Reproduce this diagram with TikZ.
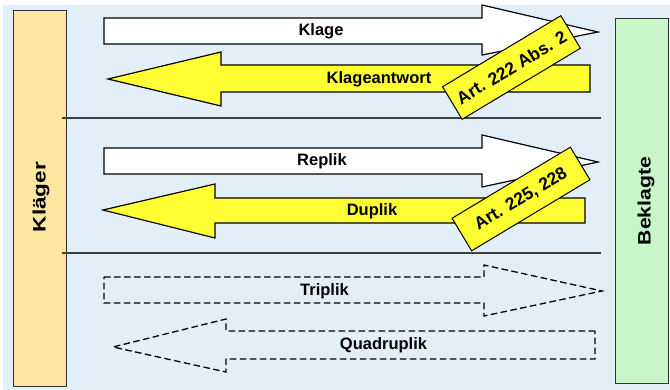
\documentclass[tikz,border=0pt]{standalone}
\usepackage{fontspec}
\setmainfont{Liberation Sans}
\definecolor{bgblue}{HTML}{E2EEF8}
\definecolor{klfill}{HTML}{FDE7A0}
\definecolor{befill}{HTML}{C8F6C8}
\definecolor{ayellow}{HTML}{FFFF33}
\tikzset{
  arr/.style={draw=black, line width=1.2pt, line join=miter},
  dasharr/.style={draw=black, line width=1.3pt, dash pattern=on 6.5pt off 3.5pt},
  lbl/.style={font=\fontsize{16.5}{18}\selectfont\bfseries, inner sep=0pt},
  party/.style={draw=black!80, line width=1pt},
  artbox/.style={draw=black, line width=1pt, fill=ayellow, rotate=31, minimum width=138pt, minimum height=38pt, inner sep=0pt, font=\fontsize{17.5}{19}\selectfont\bfseries},
  sep/.style={draw=black!75, line width=1.3pt}
}
\begin{document}
\begin{tikzpicture}[x=1pt,y=-1pt]
\useasboundingbox (0,0) rectangle (670,390);
\fill[bgblue] (3,5) rectangle (670,390);
% parties
\filldraw[party, fill=klfill] (13,11) rectangle (66,386);
\filldraw[party, fill=befill] (615,19) rectangle (668,383);
\node[lbl, font=\fontsize{18}{20}\selectfont\bfseries, rotate=90] (klaeger) at (41,197) {\scalebox{1.25}[1]{Kläger}};
\node[lbl, font=\fontsize{18}{20}\selectfont\bfseries, rotate=90] (beklagte) at (646,201) {\scalebox{1.18}[1]{Beklagte}};
% separators
\coordinate (s1a) at (62,118); \coordinate (s1b) at (601,118);
\coordinate (s2a) at (62,253); \coordinate (s2b) at (601,253);
\draw[sep] (s1a) -- (s1b);
\draw[sep] (s2a) -- (s2b);
% Klage
\filldraw[arr, fill=white] (104,18) -- (482,18) -- (482,5) -- (598,32) -- (482,55) -- (482,44) -- (104,44) -- cycle;
\node[lbl] (klage) at (321,31) {Klage};
% Klageantwort
\filldraw[arr, fill=ayellow] (590,65) -- (221,65) -- (221,52) -- (108,79) -- (221,106) -- (221,92) -- (590,92) -- cycle;
\node[lbl] (klageantwort) at (379,79) {Klageantwort};
\node[artbox] (art1) at (511.5,67.5) {Art. 222 Abs. 2};
% Replik
\filldraw[arr, fill=white] (104,148) -- (482,148) -- (482,135) -- (598,162) -- (482,187) -- (482,174) -- (104,174) -- cycle;
\node[lbl] (replik) at (322,161) {Replik};
% Duplik
\filldraw[arr, fill=ayellow] (585,198) -- (215,198) -- (215,184) -- (103,210) -- (215,238) -- (215,223) -- (585,223) -- cycle;
\node[lbl] (duplik) at (372,211) {Duplik};
\node[artbox] (art2) at (521,199) {Art. 225, 228};
% Triplik
\draw[dasharr] (104,277) -- (484,277) -- (484,265) -- (602,291) -- (484,316) -- (484,303) -- (104,303) -- cycle;
\node[lbl] (triplik) at (324.5,291) {Triplik};
% Quadruplik
\draw[dasharr] (595,331) -- (226,331) -- (226,319) -- (113,347) -- (226,372) -- (226,359) -- (595,359) -- cycle;
\node[lbl] (quadruplik) at (383.5,345) {Quadruplik};
\end{tikzpicture}
\end{document}
